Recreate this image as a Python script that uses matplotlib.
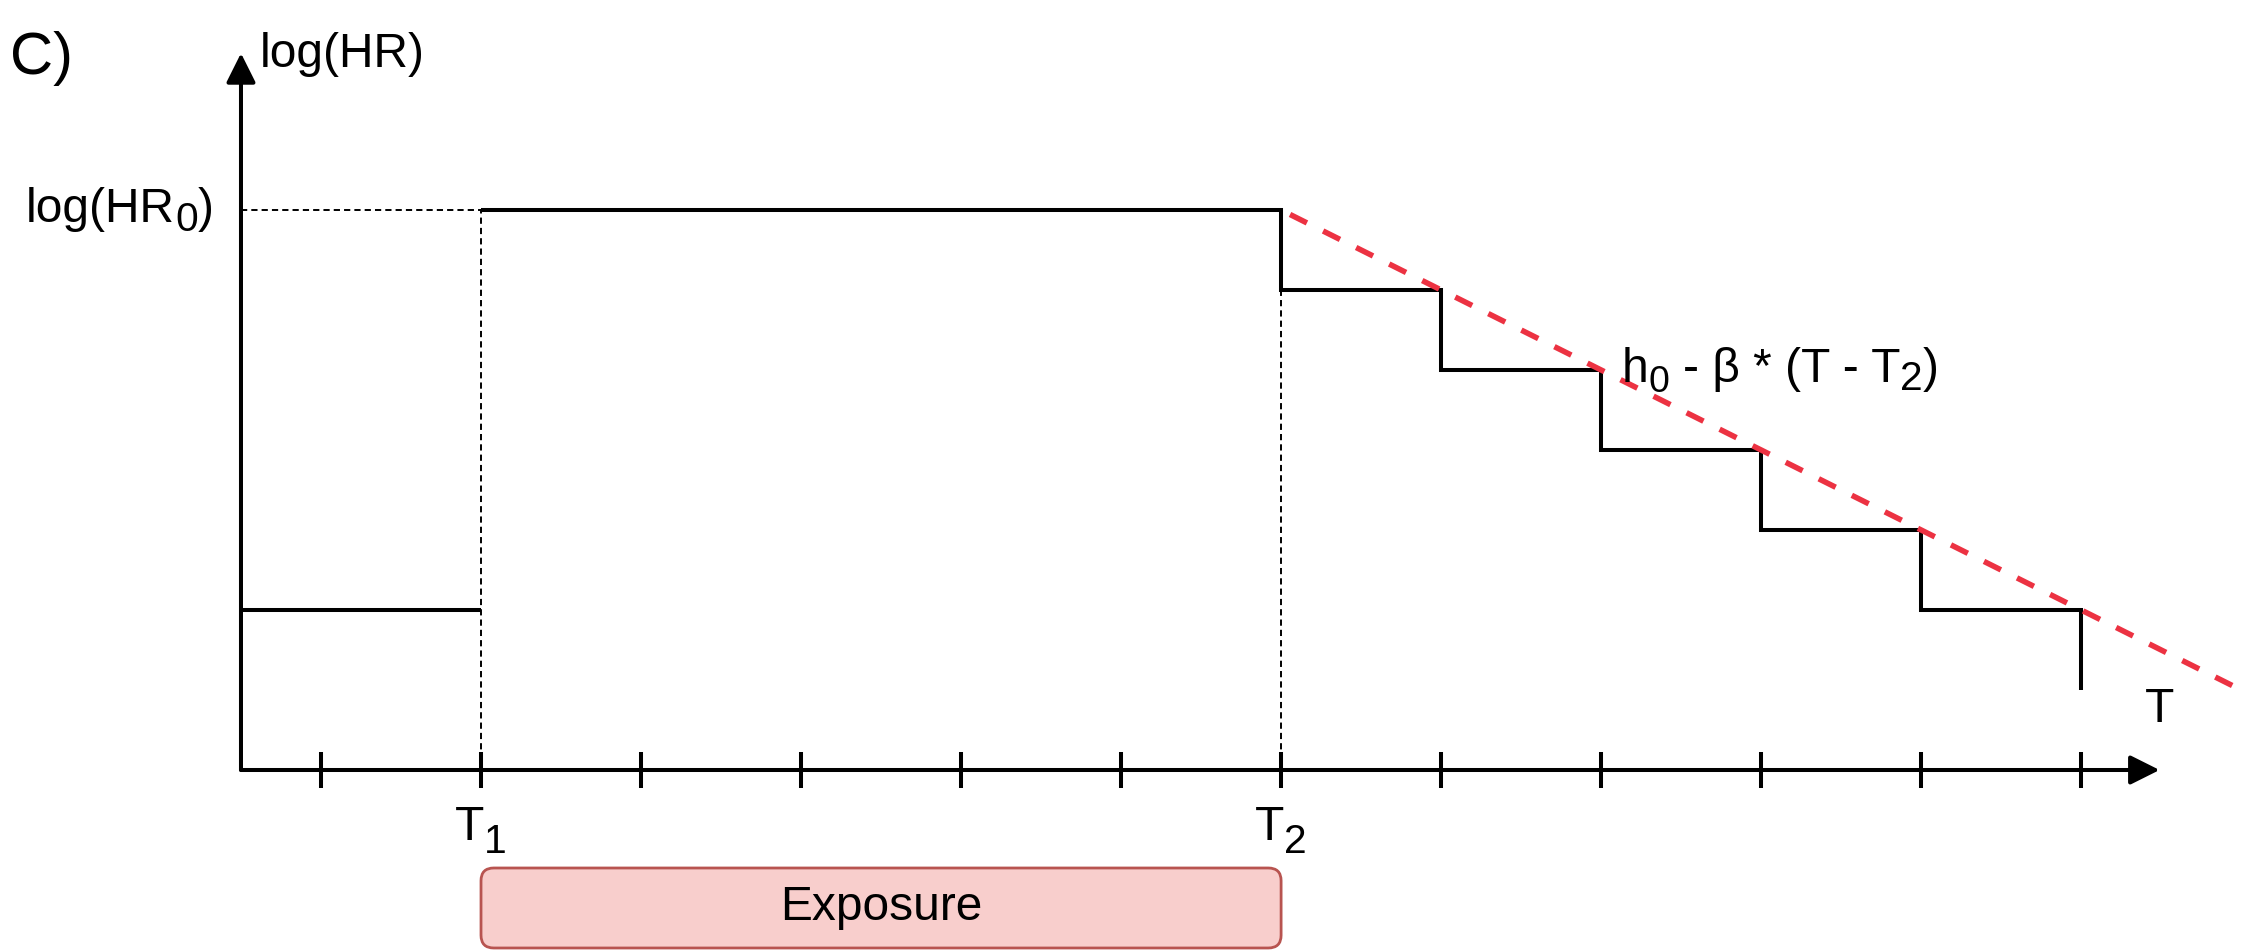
import numpy as np
import matplotlib
matplotlib.use("Agg")
import matplotlib.pyplot as plt
import matplotlib.transforms as mtransforms
from matplotlib.patches import FancyBboxPatch

plt.rcParams["font.family"] = ["Liberation Sans", "DejaVu Sans"]

# data (time in tick units, log(HR) in step units)
tick_positions = list(range(1, 13))
t_origin = 0.5
t1 = 2
t2 = 7
baseline_level = 2
hr0_level = 7
step_edges = [7, 8, 9, 10, 11, 12]
step_levels = [6, 5, 4, 3, 2]
end_level = 1
beta = 1.0
x_label = "T"
y_label = "log(HR)"
exposure_label = "Exposure"

fig = plt.figure(figsize=(22.46, 9.51), dpi=100)
ax = fig.add_axes([0, 0, 1, 1])
ax.set_xlim(-1.006, 13.03)
ax.set_ylim(-2.2625, 9.625)
ax.axis("off")

fs = 34.5
sub = 0.85 * fs
lw = 2.9


def text_width(s, size):
    r = fig.canvas.get_renderer()
    a = ax.text(0, 0, "|" + s + "|", fontsize=size)
    b = ax.text(0, 0, "||", fontsize=size)
    w = a.get_window_extent(r).width - b.get_window_extent(r).width
    a.remove()
    b.remove()
    return w


def rich_text(x, y, parts, ha="left"):
    # parts: (string, fontsize, vertical shift in px); None string = gap in px
    widths = [p[1] if p[0] is None else text_width(p[0], p[1]) for p in parts]
    total = sum(widths)
    off = {"left": 0, "center": -total / 2, "right": -total}[ha]
    for p, w in zip(parts, widths):
        if p[0] is not None:
            tr = mtransforms.offset_copy(ax.transData, fig=fig, x=off, y=p[2], units="dots")
            ax.text(x, y, p[0], fontsize=p[1], transform=tr, ha="left", va="baseline")
        off += w


# axes with arrows
x_end = tick_positions[-1] + 0.49
y_end = 8.96
arrow = dict(arrowstyle="-|>,head_length=0.9,head_width=0.45", mutation_scale=20,
             lw=lw, color="black", shrinkA=0, shrinkB=0)
ax.annotate("", xy=(x_end, 0), xytext=(t_origin, 0), arrowprops=arrow)
ax.annotate("", xy=(t_origin, y_end), xytext=(t_origin, 0), arrowprops=arrow)
for t in tick_positions:
    ax.plot([t, t], [-0.23, 0.23], color="black", lw=lw, solid_capstyle="butt")

# thin dashed guides
guide = dict(color="black", lw=1.4, dashes=(3.2, 2.1))
ax.plot([t_origin, t1], [hr0_level, hr0_level], **guide)
ax.plot([t1, t1], [0, hr0_level], **guide)
ax.plot([t2, t2], [0, hr0_level], **guide)

# hazard step function
ax.plot([t_origin, t1], [baseline_level, baseline_level], color="black", lw=lw,
        solid_capstyle="butt")
xs = [t1, t2]
ys = [hr0_level, hr0_level]
for a, b, lev in zip(step_edges[:-1], step_edges[1:], step_levels):
    xs += [a, b]
    ys += [lev, lev]
xs.append(step_edges[-1])
ys.append(end_level)
ax.plot(xs, ys, color="black", lw=lw, solid_joinstyle="miter", solid_capstyle="butt")

# linear decline
tl = np.array([t2, 13.1])
ax.plot(tl, hr0_level - beta * (tl - t2), color="#ec3242", lw=4,
        linestyle=(4.85, (3.4, 3.25)), dash_capstyle="butt")

# texts
ax.text(-0.944, 8.7, "C)", fontsize=43, ha="left", va="baseline")
ax.text(t_origin + 0.12, 8.79, y_label, fontsize=fs, ha="left", va="baseline")
rich_text(0.33, 6.85, [("log(HR", fs, 0), ("0", sub, -9), (")", fs, 0)], ha="right")
rich_text(9.13, 4.85, [("h", fs, 0), ("0", 0.78 * fs, -10), (None, 13),
                       ("- β * (T - T", fs, 0), ("2", sub, -8), (")", fs, 0)])
ax.text(x_end, 0.75, x_label, fontsize=fs, ha="center", va="center")
rich_text(t1, -0.875, [("T", fs, 0), ("1", sub, -13)], ha="center")
rich_text(t2, -0.875, [("T", fs, 0), ("2", sub, -13)], ha="center")

# exposure box
box_top, box_bottom = -1.225, -2.225
ax.add_patch(FancyBboxPatch((t1, box_bottom), t2 - t1, box_top - box_bottom,
                            boxstyle="round,pad=0,rounding_size=0.08",
                            mutation_aspect=2, fc="#f8cecc", ec="#b85450", lw=2.0))
ax.text((t1 + t2) / 2, (box_top + box_bottom) / 2, exposure_label,
        fontsize=fs, ha="center", va="center")

fig.savefig("out.png", dpi=100)
